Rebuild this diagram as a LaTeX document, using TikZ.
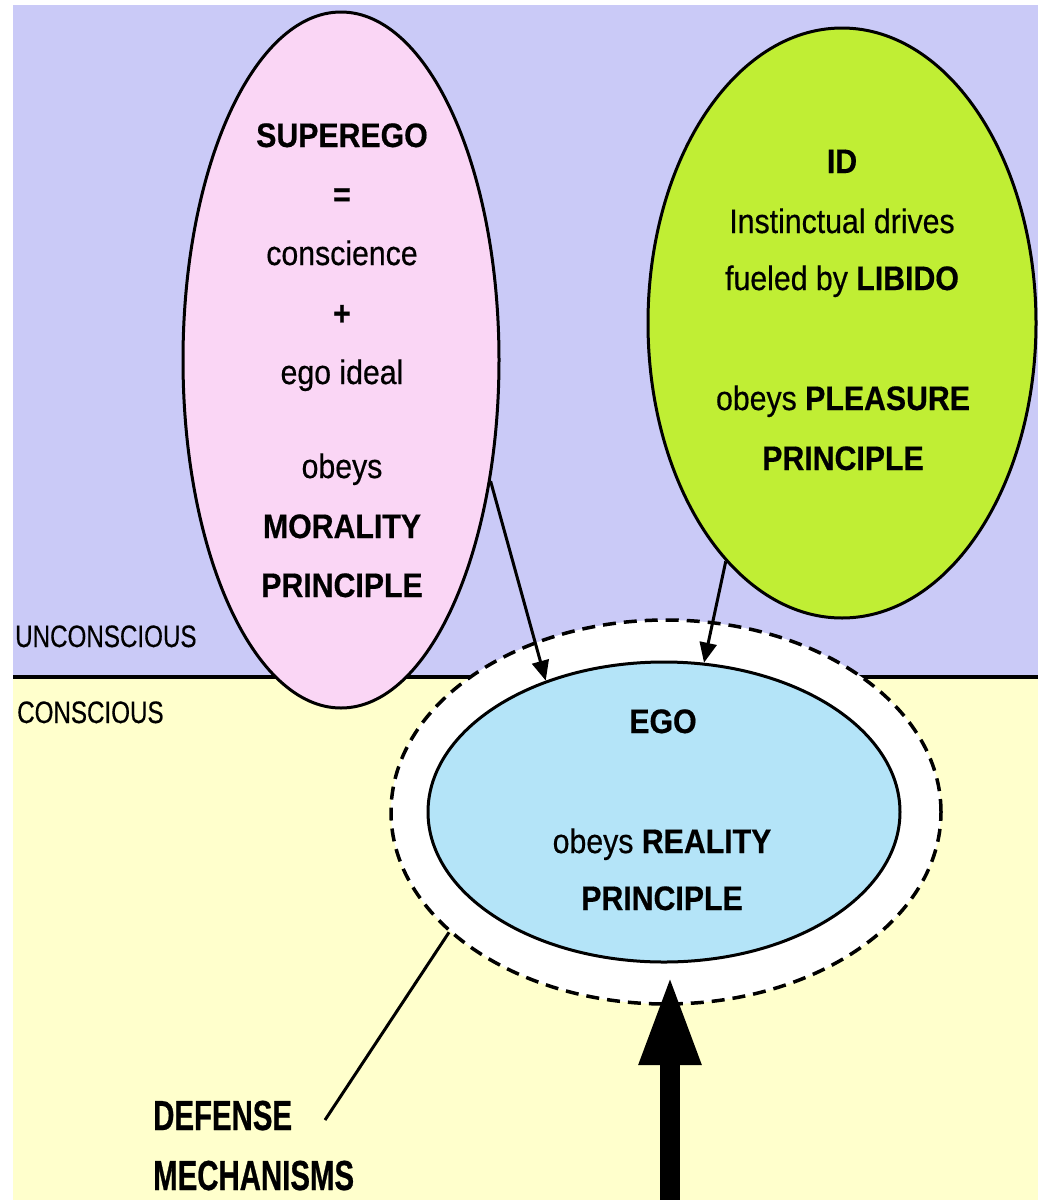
\documentclass[tikz,border=0pt]{standalone}
\usepackage{fontspec}
\newfontfamily\fA[FakeStretch=0.89,FakeBold=0.5]{Liberation Sans}
\newfontfamily\fB[FakeStretch=0.78,FakeBold=0.4]{Liberation Sans}
\newfontfamily\fC[FakeStretch=0.70,FakeBold=0.6]{Liberation Sans}
\usetikzlibrary{shapes.geometric,arrows.meta}
\definecolor{lav}{RGB}{202,202,247}
\definecolor{yel}{RGB}{255,255,204}
\definecolor{pnk}{RGB}{250,214,245}
\definecolor{grn}{RGB}{192,238,52}
\definecolor{blu}{RGB}{180,228,248}
\begin{document}
\begin{tikzpicture}[x=1pt,y=-1pt,
  oval/.style={ellipse, draw=black, line width=3pt, inner sep=0pt},
  txt/.style={inner sep=0pt, anchor=base, font=\fA\fontsize{34}{40}\selectfont},
  lbl/.style={inner sep=0pt, anchor=base west, font=\fB\fontsize{31}{36}\selectfont},
  dlbl/.style={inner sep=0pt, anchor=base west, font=\fC\bfseries\fontsize{42}{48}\selectfont},
  conn/.style={line width=3pt, -{Triangle[length=20pt,width=17pt]}}]
\useasboundingbox (0,0) rectangle (1038,1200);
\fill[white] (0,0) rectangle (1038,1200);
\fill[lav] (13,5) rectangle (1038,677);
\fill[yel] (13,677) rectangle (1038,1200);
\draw[line width=4pt] (13,677) -- (1038,677);

\node[oval, fill=pnk, minimum width=316pt, minimum height=696pt] (sup) at (341,360) {};
\node[oval, fill=grn, minimum width=388pt, minimum height=590pt] (id) at (842,323) {};
\node[ellipse, draw=black, line width=3.5pt, dash pattern=on 13pt off 8pt, fill=white,
      inner sep=0pt, minimum width=550pt, minimum height=384pt] (def) at (666,812) {};
\node[oval, fill=blu, minimum width=472pt, minimum height=300pt] (ego) at (664,812) {};

% superego text
\node[txt] (s1) at (342,147) {\textbf{SUPEREGO}};
\node[txt] (s2) at (342,206) {\textbf{=}};
\node[txt] (s3) at (342,265) {conscience};
\node[txt] (s4) at (342,325) {\textbf{+}};
\node[txt] (s5) at (342,384) {ego ideal};
\node[txt] (s6) at (342,478) {obeys};
\node[txt] (s7) at (342,538) {\textbf{MORALITY}};
\node[txt] (s8) at (342,597) {\textbf{PRINCIPLE}};

% id text
\node[txt] (i1) at (842,173) {\textbf{ID}};
\node[txt] (i2) at (842,233) {Instinctual drives};
\node[txt] (i3) at (842,290) {fueled by \textbf{LIBIDO}};
\node[txt] (i4) at (843,410) {obeys \textbf{PLEASURE}};
\node[txt] (i5) at (843,470) {\textbf{PRINCIPLE}};

% ego text
\node[txt] (e1) at (663,733) {\textbf{EGO}};
\node[txt] (e2) at (662,853) {obeys \textbf{REALITY}};
\node[txt] (e3) at (662,910) {\textbf{PRINCIPLE}};

% layer labels
\node[lbl] (unc) at (15,647) {UNCONSCIOUS};
\node[lbl] (con) at (17,723) {CONSCIOUS};

% defense mechanisms
\node[dlbl] (d1) at (153,1130) {DEFENSE};
\node[dlbl] (d2) at (153,1190) {MECHANISMS};
\coordinate (dm) at (325,1120);
\draw[line width=3pt] (def.209.4) -- (dm);

% arrows into ego
\draw[conn] (sup.-39.4) -- (ego.132);
\draw[conn] (id.-116.7) -- (ego.75.6);

% big arrow from below
\coordinate (ab) at (670,1200);
\coordinate (at) at (670,975);
\draw[line width=20pt, -{Triangle[length=90pt,width=57pt]}] (ab) -- (at);
\end{tikzpicture}
\end{document}
